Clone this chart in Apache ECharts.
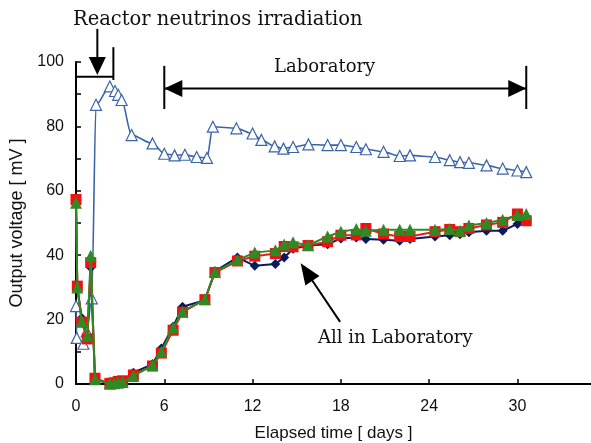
<!DOCTYPE html>
<html><head><meta charset="utf-8">
<script src="https://cdn.jsdelivr.net/npm/echarts@6/dist/echarts.min.js"></script>
<style>html,body{margin:0;padding:0;background:#fff}#c{width:591px;height:443px}</style>
</head><body><div id="c"></div>
<script>
// Upper series (open triangles): reactor irradiation then laboratory
const blueDays = [0, 0.05, 0.5, 0.73, 1.07, 1.36, 2.3, 2.65, 2.87, 3.1, 3.78, 5.2, 6.0, 6.7, 7.4, 8.2, 8.9, 9.3, 10.9, 12.0, 12.6, 13.5, 14.1, 14.75, 15.8, 17.1, 18.0, 19.05, 19.7, 20.9, 22.0, 22.7, 24.4, 25.4, 26.1, 26.7, 27.9, 29.0, 30.0, 30.6];
const blueVals = [24.2, 14.3, 12.5, 16.3, 26.6, 86.7, 92.4, 91.0, 89.8, 88.2, 77.3, 74.7, 71.5, 71.0, 71.2, 70.5, 70.2, 79.9, 79.4, 77.8, 75.8, 73.8, 73.1, 73.6, 74.4, 74.2, 74.2, 73.6, 72.9, 72.1, 70.8, 71.0, 70.5, 69.5, 68.9, 68.7, 67.9, 66.9, 66.3, 65.8];

// Lower series ("All in Laboratory")
const lowerDays = [0, 0.09, 0.39, 0.77, 1.0, 1.29, 2.3, 2.6, 2.87, 3.17, 3.9, 5.2, 5.8, 6.6, 7.24, 8.76, 9.44, 10.97, 12.15, 13.55, 14.15, 14.75, 15.77, 17.1, 18.0, 19.05, 19.7, 20.9, 22.0, 22.7, 24.4, 25.4, 26.1, 26.7, 27.9, 29.0, 30.0, 30.6];
const navyVals  = [57.0, 30.0, 20.5, 14.5, 36.2, 1.5, 0.0, 0.2, 0.5, 0.8, 3.5, 6.2, 11.0, 17.8, 24.0, 26.0, 35.0, 39.3, 36.7, 37.3, 39.3, 42.0, 43.0, 43.4, 45.2, 45.5, 45.0, 44.8, 44.5, 45.0, 45.8, 46.2, 46.5, 47.1, 47.6, 47.6, 49.7, 51.5];
const redVals   = [57.3, 30.4, 19.2, 14.0, 37.7, 1.8, 0.2, 0.4, 0.8, 1.0, 2.8, 5.6, 9.6, 16.7, 22.3, 26.2, 34.6, 38.2, 39.7, 40.5, 42.7, 42.6, 43.0, 44.2, 46.2, 46.3, 48.3, 46.6, 45.8, 45.8, 47.3, 48.0, 47.3, 48.3, 49.4, 50.2, 52.8, 50.7];
const greenVals = [56.3, 30.0, 19.5, 15.0, 39.8, 1.5, 0.1, 0.2, 0.4, 0.6, 2.5, 5.8, 10.0, 17.5, 22.5, 26.3, 34.8, 38.5, 40.8, 41.5, 43.3, 44.0, 43.1, 45.8, 47.3, 48.1, 47.6, 47.9, 47.9, 47.9, 47.9, 48.1, 47.6, 49.2, 50.0, 51.0, 52.5, 52.8];

// Axis settings
const xTickStep = 6;
const yTickStep = 10;
const yLabelStep = 20;

const chart = echarts.init(document.getElementById('c'));
function pairs(xs, ys) { return xs.map((x, i) => [x, ys[i]]); }
const sans = 'Liberation Sans';
const serif = 'DejaVu Serif';

chart.setOption({
  animation: false,
  backgroundColor: '#fff',
  grid: { left: 76, right: 0, top: 62, bottom: 59, containLabel: false, outerBoundsMode: 'none' },
  xAxis: {
    type: 'value', min: 0, max: 35, interval: xTickStep,
    name: 'Elapsed time [ days ]', nameLocation: 'middle', nameGap: 41,
    nameTextStyle: { fontFamily: sans, fontSize: 17, color: '#111' },
    axisLine: { lineStyle: { color: '#000', width: 2 } },
    axisTick: { inside: true, length: 5, lineStyle: { color: '#000', width: 1.5 } },
    axisLabel: { showMaxLabel: false, margin: 15, fontFamily: sans, fontSize: 16, color: '#111' },
    splitLine: { show: false }
  },
  yAxis: {
    type: 'value', min: 0, max: 100, interval: yTickStep,
    name: 'Output voltage [ mV ]', nameLocation: 'middle', nameGap: 47,
    nameTextStyle: { fontFamily: sans, fontSize: 18, color: '#111' },
    axisLine: { show: true, lineStyle: { color: '#000', width: 2 } },
    axisTick: { show: true, inside: true, length: 5, lineStyle: { color: '#000', width: 1.5 } },
    axisLabel: { margin: 12, fontFamily: sans, fontSize: 16, color: '#111',
      formatter: v => (v % yLabelStep === 0 ? String(v) : '') },
    splitLine: { show: false }
  },
  series: [
    { type: 'line', data: pairs(blueDays, blueVals), smooth: 0.3, smoothMonotone: 'x',
      symbol: 'triangle', symbolSize: 11,
      lineStyle: { color: '#3A64A8', width: 1.6 },
      itemStyle: { color: '#fff', borderColor: '#3A64A8', borderWidth: 1.2 }, z: 2 },
    { type: 'line', data: pairs(lowerDays, navyVals),
      symbol: 'diamond', symbolSize: 10,
      lineStyle: { color: '#0B1A5E', width: 2 },
      itemStyle: { color: '#0B1A5E' }, z: 3 },
    { type: 'line', data: pairs(lowerDays, redVals),
      symbol: 'rect', symbolSize: 11,
      lineStyle: { color: '#EE1C1C', width: 2 },
      itemStyle: { color: '#EE1111' }, z: 4 },
    { type: 'line', data: pairs(lowerDays, greenVals),
      symbol: 'triangle', symbolSize: 12,
      lineStyle: { color: '#2F8A25', width: 2 },
      itemStyle: { color: '#2F8A25' }, z: 5 }
  ]
});

function P(x, y) { return chart.convertToPixel({ gridIndex: 0 }, [x, y]); }
const g = [];
function line(a, b, w) { g.push({ type: 'line', shape: { x1: a[0], y1: a[1], x2: b[0], y2: b[1] }, style: { stroke: '#000', lineWidth: w || 2 }, z: 100 }); }
function poly(pts) { g.push({ type: 'polygon', shape: { points: pts }, style: { fill: '#000' }, z: 100 }); }
function text(t, x, y, size, align) {
  g.push({ type: 'text', x: x, y: y, style: { text: t, font: size + 'px "' + serif + '"', fill: '#111',
    textAlign: align, align: align, textVerticalAlign: 'middle', verticalAlign: 'middle' }, z: 100 });
}

// Reactor irradiation bracket + down arrow
const bL = P(0, 95.4), bR = P(2.54, 95.4);
line(bL, bR);
line(P(2.54, 104.6), P(2.54, 94.4));
const tip = P(1.45, 96);
poly([[tip[0], tip[1]], [tip[0] - 8.5, tip[1] - 18], [tip[0] + 8.5, tip[1] - 18]]);
line([tip[0], tip[1] - 17], [tip[0], tip[1] - 46]);
text('Reactor neutrinos irradiation', 73, 20, 19.5, 'left');

// Laboratory double arrow
const aL = P(6, 91.8), aR = P(30.6, 91.8);
line(aL, aR);
line(P(6, 98.8), P(6, 85.4));
line(P(30.6, 98.8), P(30.6, 85.4));
poly([[aL[0], aL[1]], [aL[0] + 18, aL[1] - 8.5], [aL[0] + 18, aL[1] + 8.5]]);
poly([[aR[0], aR[1]], [aR[0] - 18, aR[1] - 8.5], [aR[0] - 18, aR[1] + 8.5]]);
const lt = P(16.9, 98.4);
text('Laboratory', lt[0], lt[1], 18, 'center');

// All in Laboratory pointer
const pt = P(15.27, 37.5), tl = P(17.95, 19.3);
const dx = pt[0] - tl[0], dy = pt[1] - tl[1], len = Math.hypot(dx, dy);
const ux = dx / len, uy = dy / len, nx = -uy, ny = ux;
const hb = [pt[0] - ux * 21, pt[1] - uy * 21];
line(tl, [pt[0] - ux * 18, pt[1] - uy * 18]);
poly([[pt[0], pt[1]], [hb[0] + nx * 8.5, hb[1] + ny * 8.5], [hb[0] - nx * 8.5, hb[1] - ny * 8.5]]);
const at = P(21.7, 14.3);
text('All in Laboratory', at[0], at[1], 18, 'center');

chart.setOption({ graphic: { elements: g } });
</script></body></html>
